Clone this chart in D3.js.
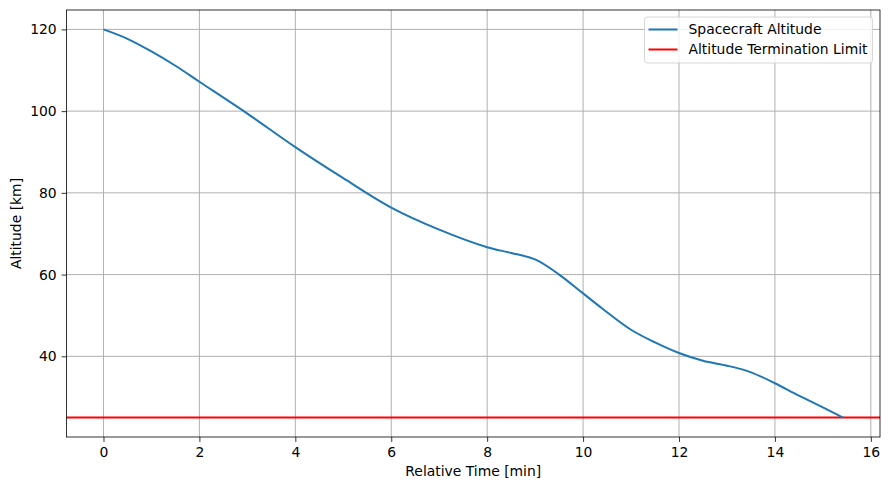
<!DOCTYPE html>
<html>
<head>
<meta charset="utf-8">
<script src="https://cdn.jsdelivr.net/npm/d3@7"></script>
<style>
  body { margin: 0; background: #fff; }
  svg { font-family: "DejaVu Sans", sans-serif; }
</style>
</head>
<body>
<div id="chart"></div>
<script>
// Data
const timeMin = [0, 0.5, 1, 1.5, 2, 3, 4, 5, 6, 7, 8, 8.5, 9, 9.5, 10, 10.4, 11, 11.5, 12, 12.5, 13, 13.4, 13.7, 14, 14.5, 15, 15.42];
const altitudeKm = [120, 117.7, 114.6, 111.1, 107.2, 99.4, 91.2, 83.6, 76.4, 71.0, 66.7, 65.3, 63.7, 60.0, 55.4, 51.7, 46.5, 43.4, 40.8, 38.9, 37.7, 36.5, 35.1, 33.4, 30.4, 27.5, 25.0];
const terminationLimit = 25;
const xTicks = [0, 2, 4, 6, 8, 10, 12, 14, 16];
const yTicks = [40, 60, 80, 100, 120];
const legendLabels = ["Spacecraft Altitude", "Altitude Termination Limit"];

const W = 889, H = 490;
const margin = { top: 10, right: 9, bottom: 53, left: 66.5 };
const width = W - margin.left - margin.right;
const height = H - margin.top - margin.bottom;

const points = timeMin.map((t, i) => ({ t: t, alt: altitudeKm[i] }));

const svg = d3.select("#chart").append("svg")
    .attr("width", W)
    .attr("height", H);

const g = svg.append("g")
    .attr("transform", `translate(${margin.left},${margin.top})`);

// matplotlib-style 5% padding
const xMin = d3.min(timeMin), xMax = d3.max(timeMin);
const xPad = (xMax - xMin) * 0.05;
const yMin = Math.min(d3.min(altitudeKm), terminationLimit), yMax = d3.max(altitudeKm);
const yPad = (yMax - yMin) * 0.05;

const x = d3.scaleLinear().domain([xMin - xPad, xMax + xPad]).range([0, width]);
const y = d3.scaleLinear().domain([yMin - yPad, yMax + yPad]).range([height, 0]);

// Grid
g.append("g").selectAll("line")
    .data(xTicks)
    .join("line")
    .attr("x1", d => x(d)).attr("x2", d => x(d))
    .attr("y1", 0).attr("y2", height)
    .attr("stroke", "#b0b0b0").attr("stroke-width", 1);

g.append("g").selectAll("line")
    .data(yTicks)
    .join("line")
    .attr("x1", 0).attr("x2", width)
    .attr("y1", d => y(d)).attr("y2", d => y(d))
    .attr("stroke", "#b0b0b0").attr("stroke-width", 1);

// Axes
const xAxis = g.append("g")
    .attr("transform", `translate(0,${height})`)
    .call(d3.axisBottom(x).tickValues(xTicks).tickSize(4.9).tickPadding(4.9).tickSizeOuter(0));
const yAxis = g.append("g")
    .call(d3.axisLeft(y).tickValues(yTicks).tickSize(4.9).tickPadding(4.9).tickSizeOuter(0));

[xAxis, yAxis].forEach(a => {
    a.select(".domain").remove();
    a.selectAll("line").attr("stroke", "#000").attr("stroke-width", 0.8);
    a.selectAll("text")
        .attr("fill", "#000")
        .style("font-size", "13.9px")
        .style("font-family", "DejaVu Sans, sans-serif");
});

// Termination limit line
g.append("line")
    .attr("x1", 0).attr("x2", width)
    .attr("y1", y(terminationLimit)).attr("y2", y(terminationLimit))
    .attr("stroke", "#ff0000").attr("stroke-width", 2);

// Altitude line
const line = d3.line()
    .x(d => x(d.t))
    .y(d => y(d.alt))
    .curve(d3.curveCatmullRom.alpha(0.5));

g.append("path")
    .datum(points)
    .attr("fill", "none")
    .attr("stroke", "#1f77b4")
    .attr("stroke-width", 2)
    .attr("d", line);

// Frame
g.append("rect")
    .attr("width", width).attr("height", height)
    .attr("fill", "none").attr("stroke", "#000").attr("stroke-width", 0.8);

// Axis labels
svg.append("text")
    .attr("x", margin.left + width / 2)
    .attr("y", 476)
    .attr("text-anchor", "middle")
    .style("font-size", "13.9px")
    .text("Relative Time [min]");

svg.append("text")
    .attr("transform", `translate(21,${margin.top + height / 2}) rotate(-90)`)
    .attr("text-anchor", "middle")
    .style("font-size", "13.9px")
    .text("Altitude [km]");

// Legend
const legend = svg.append("g").attr("transform", "translate(644.5,17)");
legend.append("rect")
    .attr("width", 228).attr("height", 46).attr("rx", 3)
    .attr("fill", "#fff").attr("fill-opacity", 0.8)
    .attr("stroke", "#cccccc").attr("stroke-width", 0.8);

const legendColors = ["#1f77b4", "#ff0000"];
legendLabels.forEach((lab, i) => {
    const ly = 12.5 + i * 20;
    legend.append("line")
        .attr("x1", 4).attr("x2", 33)
        .attr("y1", ly).attr("y2", ly)
        .attr("stroke", legendColors[i]).attr("stroke-width", 2);
    legend.append("text")
        .attr("x", 44).attr("y", ly)
        .attr("dy", "0.35em")
        .style("font-size", "13.9px")
        .text(lab);
});
</script>
</body>
</html>
